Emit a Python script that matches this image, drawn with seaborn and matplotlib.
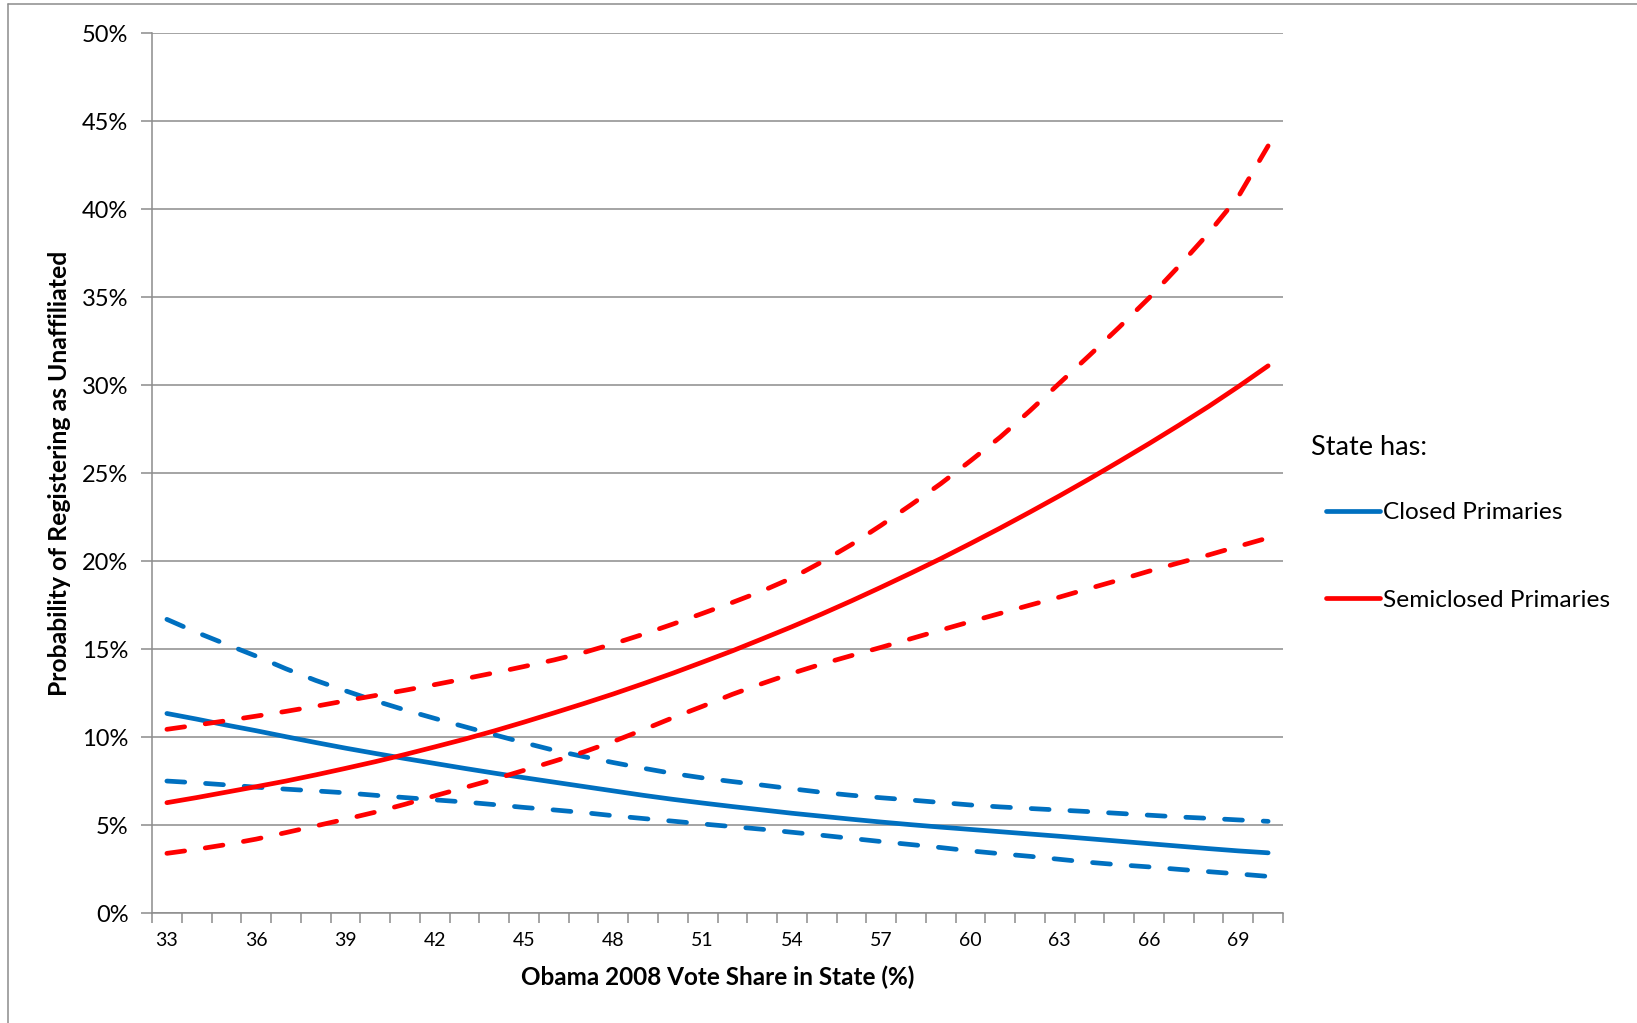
import numpy as np
import pandas as pd
import matplotlib
matplotlib.use("Agg")
import matplotlib.pyplot as plt
from matplotlib.lines import Line2D
import seaborn as sns

# ---------------- data ----------------
vote_share = list(range(33, 71))

closed_est = [11.34, 11.02, 10.68, 10.36, 10.02, 9.69, 9.37, 9.07, 8.78, 8.50,
              8.22, 7.95, 7.69, 7.44, 7.19, 6.94, 6.69, 6.46, 6.25, 6.05,
              5.86, 5.67, 5.50, 5.33, 5.17, 5.02, 4.88, 4.75, 4.62, 4.49,
              4.36, 4.22, 4.08, 3.94, 3.80, 3.66, 3.53, 3.42]
closed_hi = [16.69, 15.95, 15.27, 14.60, 13.88, 13.22, 12.63, 12.06, 11.54, 11.06,
             10.59, 10.13, 9.68, 9.25, 8.89, 8.55, 8.23, 7.93, 7.68, 7.47,
             7.27, 7.06, 6.86, 6.69, 6.55, 6.42, 6.28, 6.14, 6.03, 5.94,
             5.85, 5.76, 5.66, 5.56, 5.46, 5.38, 5.29, 5.21]
closed_lo = [7.50, 7.40, 7.28, 7.15, 7.04, 6.94, 6.83, 6.69, 6.56, 6.43,
             6.31, 6.16, 6.00, 5.86, 5.71, 5.53, 5.37, 5.22, 5.06, 4.91,
             4.76, 4.59, 4.42, 4.24, 4.06, 3.89, 3.72, 3.53, 3.37, 3.22,
             3.05, 2.88, 2.74, 2.62, 2.48, 2.35, 2.22, 2.08]
semi_est = [6.27, 6.56, 6.87, 7.18, 7.50, 7.85, 8.22, 8.60, 9.01, 9.44,
            9.88, 10.35, 10.85, 11.37, 11.90, 12.45, 13.03, 13.63, 14.26, 14.90,
            15.58, 16.27, 16.99, 17.74, 18.52, 19.32, 20.14, 21.00, 21.88, 22.79,
            23.72, 24.68, 25.67, 26.68, 27.72, 28.79, 29.92, 31.10]
semi_hi = [10.44, 10.68, 10.93, 11.19, 11.46, 11.75, 12.06, 12.36, 12.66, 12.98,
           13.31, 13.65, 14.01, 14.38, 14.80, 15.30, 15.84, 16.42, 17.03, 17.65,
           18.30, 19.04, 19.95, 20.94, 22.04, 23.20, 24.40, 25.70, 27.05, 28.55,
           30.13, 31.70, 33.30, 34.96, 36.76, 38.64, 40.72, 43.60]
semi_lo = [3.39, 3.62, 3.89, 4.20, 4.57, 4.95, 5.33, 5.73, 6.18, 6.66,
           7.13, 7.60, 8.11, 8.62, 9.15, 9.75, 10.41, 11.10, 11.75, 12.43,
           13.04, 13.62, 14.15, 14.63, 15.10, 15.59, 16.08, 16.56, 17.03, 17.50,
           17.96, 18.45, 18.93, 19.43, 19.90, 20.35, 20.84, 21.32]

y_ticks = [0, 5, 10, 15, 20, 25, 30, 35, 40, 45, 50]
x_label_step = 3

primaries = ["Closed Primaries", "Semiclosed Primaries"]
colors = {"Closed Primaries": "#0070C0", "Semiclosed Primaries": "#FF0000"}

# long table
series_defs = [
    ("closed_hi", "Closed Primaries", "bound", closed_hi),
    ("closed_lo", "Closed Primaries", "bound", closed_lo),
    ("closed_est", "Closed Primaries", "estimate", closed_est),
    ("semi_hi", "Semiclosed Primaries", "bound", semi_hi),
    ("semi_lo", "Semiclosed Primaries", "bound", semi_lo),
    ("semi_est", "Semiclosed Primaries", "estimate", semi_est),
]
rows = []
for sid, prim, kind, vals in series_defs:
    for i, (xv, yv) in enumerate(zip(vote_share, vals)):
        rows.append({"series": sid, "primaries": prim, "kind": kind,
                     "pos": i, "share": xv, "value": yv})
df = pd.DataFrame(rows)

# ---------------- style ----------------
sns.set_theme(style="white")
plt.rcParams["font.family"] = ["Lato", "DejaVu Sans"]
GRAY = "#8c8c8c"
LW = 3.4

W, H = 1637, 1023
fig = plt.figure(figsize=(W / 100, H / 100), dpi=100)
fig.patch.set_facecolor("white")
ax = fig.add_axes([152 / W, 1 - 913 / H, (1283 - 152) / W, (913 - 33.3) / H])

for sid, prim, kind, vals in series_defs:
    sub = df[df["series"] == sid]
    kw = dict(solid_capstyle="round", dash_capstyle="round")
    if kind == "bound":
        kw["linestyle"] = (0, (3.8, 4.4))
    sns.lineplot(data=sub, x="pos", y="value", color=colors[prim], linewidth=LW,
                 ax=ax, legend=False, **kw)

ax.set_xlim(-0.5, len(vote_share) - 0.5)
ax.set_ylim(0, 50)
ax.set_yticks(y_ticks)
ax.set_yticklabels([f"{v}%" for v in y_ticks])
ax.set_xticks(list(range(0, len(vote_share), x_label_step)))
ax.set_xticklabels([str(v) for v in vote_share[::x_label_step]])
ax.set_xticks(np.arange(-0.5, len(vote_share), 1.0), minor=True)

ax.yaxis.grid(True, color=GRAY, linewidth=1.1)
ax.xaxis.grid(False)
ax.set_axisbelow(True)
for s in ["top", "right"]:
    ax.spines[s].set_visible(False)
for s in ["left", "bottom"]:
    ax.spines[s].set_color(GRAY)
    ax.spines[s].set_linewidth(1.1)

ax.tick_params(axis="y", which="major", left=True, length=8, width=1.1,
               color=GRAY, direction="out", labelsize=17, pad=9, labelcolor="black")
ax.tick_params(axis="x", which="major", bottom=True, length=0, labelsize=14,
               pad=14, labelcolor="black")
ax.tick_params(axis="x", which="minor", bottom=True, length=7, width=1.1,
               color=GRAY, direction="out")

ax.set_xlabel("Obama 2008 Vote Share in State (%)", fontsize=17.5, fontweight="bold",
              color="black")
ax.xaxis.label.set_va("center")
ax.xaxis.set_label_coords(0.5, (913 - 977) / (913 - 33.3))
ax.set_ylabel("Probability of Registering as Unaffiliated", fontsize=17.8,
              fontweight="bold", color="black")
ax.yaxis.label.set_va("center")
ax.yaxis.set_label_coords((59.5 - 152) / (1283 - 152), 0.5)

# legend
fig.text(1311 / W, 1 - 447 / H, "State has:", fontsize=19.5, ha="left", va="center",
         color="black")
handles = [Line2D([0], [0], color=colors[p], lw=LW, solid_capstyle="round")
           for p in primaries]
leg = fig.legend(handles, primaries, loc="upper left",
                 bbox_to_anchor=(1326 / W, 1 - 502 / H), frameon=False,
                 fontsize=17.6, handlelength=2.2, handletextpad=0.12,
                 labelspacing=2.72, borderpad=0, borderaxespad=0)
for t in leg.get_texts():
    t.set_color("black")

# chart-area border (left and top edges visible)
fig.add_artist(Line2D([8 / W, 8 / W], [0, 1 - 4 / H], transform=fig.transFigure,
                      color=GRAY, lw=1.1))
fig.add_artist(Line2D([8 / W, 1], [1 - 4 / H, 1 - 4 / H], transform=fig.transFigure,
                      color=GRAY, lw=1.1))

fig.savefig("out.png", dpi=100, facecolor="white")
